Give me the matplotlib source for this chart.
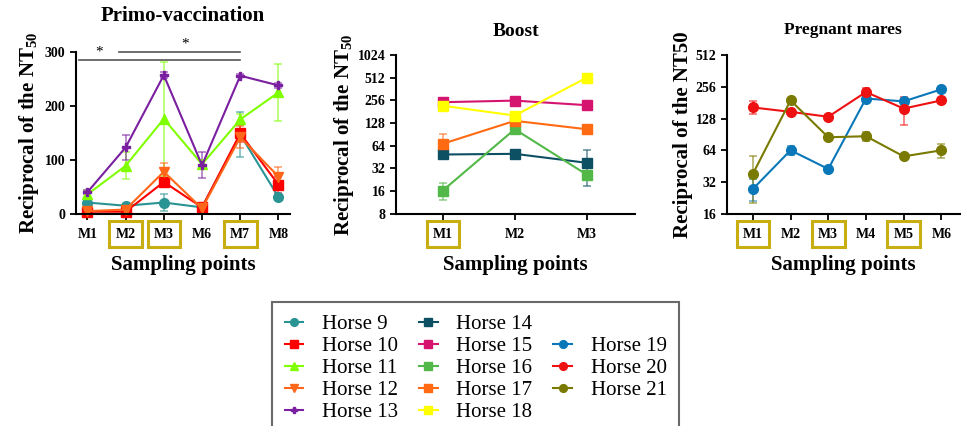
import numpy as np
import matplotlib
matplotlib.use("Agg")
import matplotlib.pyplot as plt
from matplotlib.lines import Line2D

plt.rcParams['font.family'] = ['Liberation Serif', 'DejaVu Serif']
plt.rcParams['mathtext.fontset'] = 'custom'
plt.rcParams['mathtext.rm'] = 'Liberation Serif:bold'
plt.rcParams['mathtext.bf'] = 'Liberation Serif:bold'
plt.rcParams['mathtext.it'] = 'Liberation Serif:bold'

# ---- Primo-vaccination ----
primo_x = ["M1", "M2", "M3", "M6", "M7", "M8"]
primo_boxed = ["M2", "M3", "M7"]
h9 = [21, 15, 21, 12, 147, 31]
h9_err = [5, 3, 15, 3, 42, 4]
h10 = [4, 4, 59, 12, 149, 54]
h10_err = [2, 2, 5, 3, 15, 15]
h11 = [36, 89, 176, 92, 175, 225]
h11_err = [8, 25, 105, 8, 10, 52]
h12 = [5, 8, 78, 10, 142, 69]
h12_err = [2, 3, 16, 3, 20, 18]
h13 = [40, 123, 257, 90, 256, 238]
h13_err = [4, 23, 5, 24, 3, 4]

# ---- Boost ----
boost_x = ["M1", "M2", "M3"]
boost_boxed = ["M1"]
h14 = [49, 50, 38]
h14_err = [3, 3, 19]
h15 = [242, 254, 221]
h15_err = [10, 10, 27]
h16 = [16.3, 106, 26.5]
h16_err = [4, 6, 3]
h17 = [68, 137, 106]
h17_err = [24, 12, 5]
h18 = [217, 161, 512]
h18_err = [5, 10, 10]

# ---- Pregnant mares ----
mares_x = ["M1", "M2", "M3", "M4", "M5", "M6"]
mares_boxed = ["M1", "M3", "M5"]
h19 = [27.5, 64, 42.6, 198, 186, 242]
h19_err = [6.5, 6, 1, 5, 10, 8]
h20 = [163, 148, 133, 228, 159, 190]
h20_err = [23, 8, 5, 20, 47, 8]
h21 = [38.3, 190, 85, 87, 56, 64]
h21_err = [18, 6, 3, 8, 2, 10]

box_color = "#c9ae12"

fig = plt.figure(figsize=(9.73, 4.26), dpi=100)
ax1 = fig.add_axes([0.078, 0.498, 0.220, 0.380])
ax2 = fig.add_axes([0.407, 0.498, 0.2456, 0.373])
ax3 = fig.add_axes([0.747, 0.498, 0.2395, 0.373])


def series(ax, x, y, err, color, marker, label, ms=7):
    eb = ax.errorbar(x, y, yerr=err, color=color, marker=marker, ms=ms, lw=1.5,
                     capsize=3, elinewidth=1.2, capthick=1.2, label=label, clip_on=False)
    for b in eb[2]:
        b.set_alpha(0.6)
    for c in eb[1]:
        c.set_alpha(0.6)
    return Line2D([], [], color=color, marker=marker, ms=ms * 0.8, lw=1.5, label=label)


def style(ax, labels, boxed, title, tsize, tpad, ylabel, ypad):
    for s in ["top", "right"]:
        ax.spines[s].set_visible(False)
    for s in ["left", "bottom"]:
        ax.spines[s].set_linewidth(1.5)
    ax.tick_params(width=1.3, length=4, labelsize=10)
    ax.set_xticks(range(len(labels)))
    ax.set_xticklabels(labels, fontweight="bold")
    for t in ax.get_yticklabels():
        t.set_fontweight("bold")
    for t in ax.get_xticklabels():
        if t.get_text() in boxed:
            t.set_bbox(dict(boxstyle="square,pad=0.45", facecolor="none",
                            edgecolor=box_color, linewidth=2.2))
    ax.tick_params(axis="x", pad=6)
    ax.set_title(title, fontweight="bold", fontsize=tsize, pad=tpad)
    ax.set_xlabel("Sampling points", fontweight="bold", fontsize=15, labelpad=10)
    ax.set_ylabel(ylabel, fontweight="bold", fontsize=15, labelpad=ypad)


handles = []
x1 = np.arange(len(primo_x))
handles.append(series(ax1, x1, h9, h9_err, "#2a9494", "o", "Horse 9"))
handles.append(series(ax1, x1, h10, h10_err, "#ff0000", "s", "Horse 10"))
handles.append(series(ax1, x1, h11, h11_err, "#80ff00", "^", "Horse 11"))
handles.append(series(ax1, x1, h12, h12_err, "#ff6619", "v", "Horse 12"))
handles.append(series(ax1, x1, h13, h13_err, "#7a1fa0", "P", "Horse 13", ms=6))
ax1.set_ylim(0, 300)
ax1.set_yticks([0, 100, 200, 300])
ax1.set_xlim(-0.3, 5.3)
style(ax1, primo_x, primo_boxed, "Primo-vaccination", 15, 22,
      "Reciprocal of the NT$_{50}$", 3)
# significance bars
ax1.plot([-0.23, 4], [285, 285], color="#555555", lw=1.2, clip_on=False)
ax1.plot([0.83, 4], [300, 300], color="#555555", lw=1.2, clip_on=False)
ax1.text(0.31, 287, "*", ha="center", va="bottom", fontsize=11)
ax1.text(2.55, 302, "*", ha="center", va="bottom", fontsize=11)

x2 = np.arange(len(boost_x))
handles.append(series(ax2, x2, h14, h14_err, "#0d4f63", "s", "Horse 14"))
handles.append(series(ax2, x2, h15, h15_err, "#d4146f", "s", "Horse 15"))
handles.append(series(ax2, x2, h16, h16_err, "#52b948", "s", "Horse 16"))
handles.append(series(ax2, x2, h17, h17_err, "#ff6a13", "s", "Horse 17"))
handles.append(series(ax2, x2, h18, h18_err, "#ffff00", "s", "Horse 18"))
ax2.set_yscale("log", base=2)
ax2.set_ylim(8, 1024)
b_ticks = [8, 16, 32, 64, 128, 256, 512, 1024]
ax2.set_yticks(b_ticks)
ax2.set_yticklabels([str(v) for v in b_ticks])
ax2.minorticks_off()
ax2.set_xlim(-0.65, 2.67)
style(ax2, boost_x, boost_boxed, "Boost", 14, 14, "Reciprocal of the NT$_{50}$", 1)

x3 = np.arange(len(mares_x))
handles.append(series(ax3, x3, h19, h19_err, "#0a78b8", "o", "Horse 19"))
handles.append(series(ax3, x3, h20, h20_err, "#ee1111", "o", "Horse 20"))
handles.append(series(ax3, x3, h21, h21_err, "#7a7a00", "o", "Horse 21"))
ax3.set_yscale("log", base=2)
ax3.set_ylim(16, 512)
m_ticks = [16, 32, 64, 128, 256, 512]
ax3.set_yticks(m_ticks)
ax3.set_yticklabels([str(v) for v in m_ticks])
ax3.minorticks_off()
ax3.set_xlim(-0.69, 5.49)
style(ax3, mares_x, mares_boxed, "Pregnant mares", 12.5, 15, "Reciprocal of the NT50", 2)

blank = Line2D([], [], alpha=0, label=" ")
leg_handles = handles[:10] + [blank] + handles[10:] + [blank]
leg = fig.legend(handles=leg_handles, labels=[h.get_label() for h in leg_handles],
                 ncol=3, loc="upper left", bbox_to_anchor=(272 / 973, 1 - 302 / 426),
                 borderaxespad=0, fontsize=15, frameon=True, fancybox=False,
                 edgecolor="#444444", handlelength=0.9, handletextpad=0.9,
                 labelspacing=0.12, columnspacing=1.0, borderpad=0.6)
leg.get_frame().set_linewidth(1.5)

fig.savefig("out.png", dpi=100)
